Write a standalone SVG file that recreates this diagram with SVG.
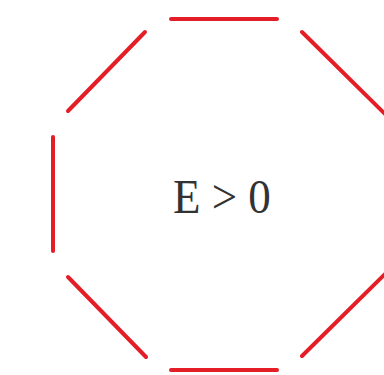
<svg xmlns="http://www.w3.org/2000/svg" width="384" height="375" viewBox="0 0 384 375">
<style>
.edge{stroke:#e41e26;stroke-width:4;stroke-linecap:round;fill:none}
.lbl{font-family:"Liberation Serif","Times New Roman",serif;font-size:45px;fill:#333}
</style>
<rect width="384" height="375" fill="#fff"/>
<g id="octagon">
<line class="edge" x1="171" y1="19" x2="277" y2="19"/>
<line class="edge" x1="302" y1="32" x2="386" y2="115"/>
<line class="edge" x1="145" y1="32" x2="68" y2="111"/>
<line class="edge" x1="53" y1="137" x2="53" y2="251"/>
<line class="edge" x1="68" y1="277" x2="146" y2="357"/>
<line class="edge" x1="171" y1="370" x2="277" y2="370"/>
<line class="edge" x1="302" y1="356" x2="386" y2="273"/>
<line class="edge" x1="395" y1="137" x2="395" y2="251"/>
<text class="lbl" x="173" y="213" transform="translate(0,-21.3) scale(1,1.1)">E &gt; 0</text>
</g>
</svg>
